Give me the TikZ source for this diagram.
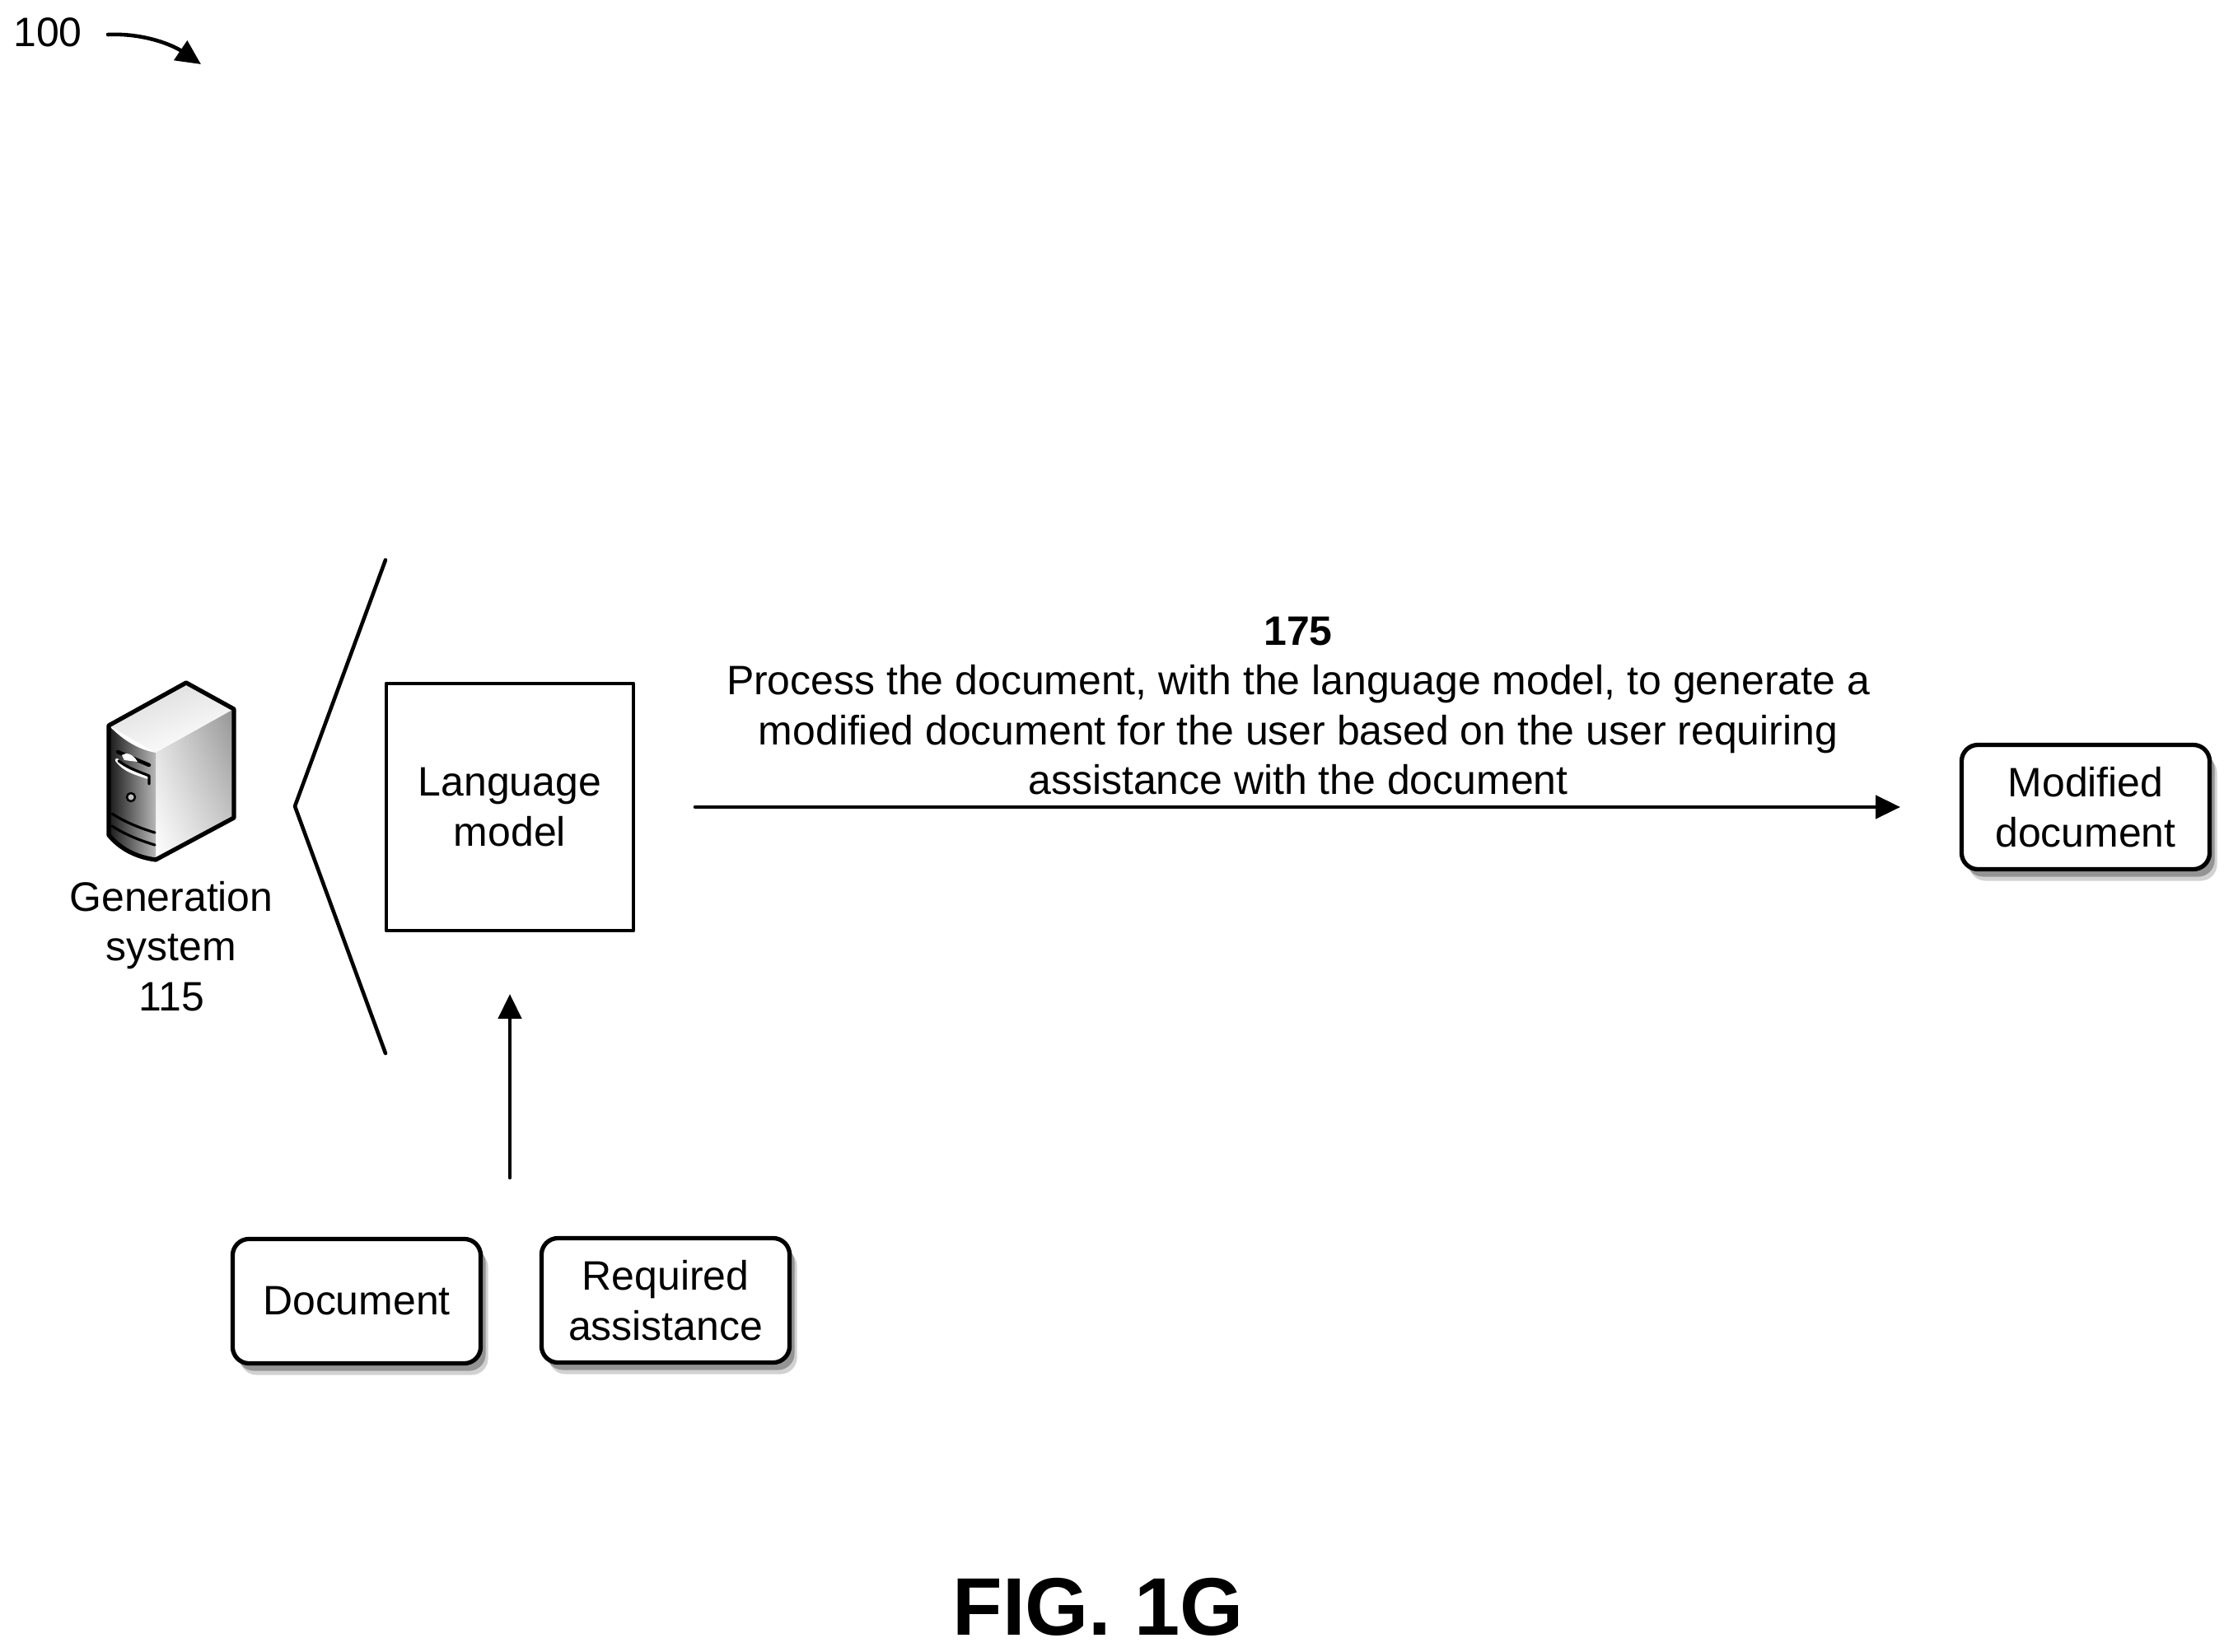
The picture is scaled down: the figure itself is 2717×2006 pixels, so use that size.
\documentclass[tikz,border=0pt]{standalone}
\usepackage{fontspec}
\setmainfont{Liberation Sans}
\usetikzlibrary{arrows.meta, calc, shadows, shadings}

\tikzset{
    lbl/.style={align=center, inner sep=0pt, font=\fontsize{14.2}{17.2}\selectfont},
    doc/.style={lbl, draw=black, fill=white, line width=1.5pt, rounded corners=0.2cm,
        minimum width=3.01cm, minimum height=1.51cm,
        general shadow={shadow xshift=0.09cm, shadow yshift=-0.14cm, fill=black!18},
        general shadow={shadow xshift=0.06cm, shadow yshift=-0.09cm, fill=black!42}},
    arr/.style={line width=1.3pt, -{Triangle[length=0.3cm, width=0.28cm]}},
}

\begin{document}
\begin{tikzpicture}[line cap=round,line join=round,x=0.01cm,y=-0.01cm]

    \useasboundingbox (0,0) rectangle (2717,2006);

    % reference number
    \draw (58,39) node[lbl] (N100) {100};
    \coordinate (R1) at (131,42);
    \coordinate (R2) at (244,78);
    \draw[arr] (R1) .. controls (175,40) and (210,55) .. (R2);

    % server, top face
    \shade[top color=black!14, bottom color=white, shading angle=20]
        (226,829) -- (284,861) -- (189,914) -- (132,881) -- cycle;
    % server, side face
    \shade[shading=bilinear interpolation, lower left=white, lower right=black!18, upper left=black!14, upper right=black!42]
        (284,861) -- (284,993) -- (189,1044) -- (189,914) -- cycle;
    % server, front face
    \shade[left color=black!90, right color=black!28]
        (132,881) .. controls (151,901) and (171,911) .. (189,914) -- (189,1044)
        .. controls (166,1041) and (146,1031) .. (132,1014) -- cycle;
    % server, front details
    \draw[line width=1.3pt] (143,913) -- (181,929);
    \fill[white] (148,917) .. controls (153,913) and (161,915) .. (167,925) -- (151,923) -- cycle;
    \draw[white, line width=1.2pt] (142,923) .. controls (151,936) and (166,939) .. (180,944);
    \draw[line width=0.9pt] (144,924) .. controls (156,933) and (166,936) .. (181,942) -- (181,952);
    \draw[line width=0.7pt, fill=black!25] (159,968) circle (5);
    \draw[line width=0.9pt] (136,988) .. controls (151,998) and (171,1006) .. (188,1011);
    \draw[line width=0.9pt] (136,1003) .. controls (151,1013) and (171,1021) .. (188,1026);
    % server, outline
    \draw[line width=1.5pt] (226,829) -- (284,861) -- (284,993) -- (189,1044)
        .. controls (166,1041) and (146,1031) .. (132,1014) -- (132,881) -- cycle;

    \draw (208,1149) node[lbl] (Gen) {Generation\\system\\115};

    % bracket
    \coordinate (B1) at (468,680);
    \coordinate (B2) at (358,979);
    \coordinate (B3) at (468,1279);
    \draw[line width=1.3pt] (B1) -- (B2) -- (B3);

    \draw (619,980) node[lbl, draw=black, line width=1.3pt, minimum width=3.0cm, minimum height=3.0cm] (Lang) {Language\\model};

    % inputs
    \draw (433,1580) node[doc] (Doc) {Document};
    \draw (808,1579) node[doc] (Req) {Required\\assistance};
    \coordinate (U1) at (619,1430);
    \coordinate (U2) at (619,1207);
    \draw[arr] (U1) -- (U2);

    % step 175
    \draw (1576,857) node[lbl] (Step) {\textbf{175}\\Process the document, with the language model, to generate a\\modified document for the user based on the user requiring\\assistance with the document};
    \coordinate (H1) at (844,980);
    \coordinate (H2) at (2307,980);
    \draw[arr] (H1) -- (H2);

    \draw (2532,980) node[doc] (Mod) {Modified\\document};

    \draw (1333,1951) node[inner sep=0pt, font=\fontsize{28.2}{34}\selectfont\bfseries] (Fig) {FIG. 1G};

\end{tikzpicture}
\end{document}
